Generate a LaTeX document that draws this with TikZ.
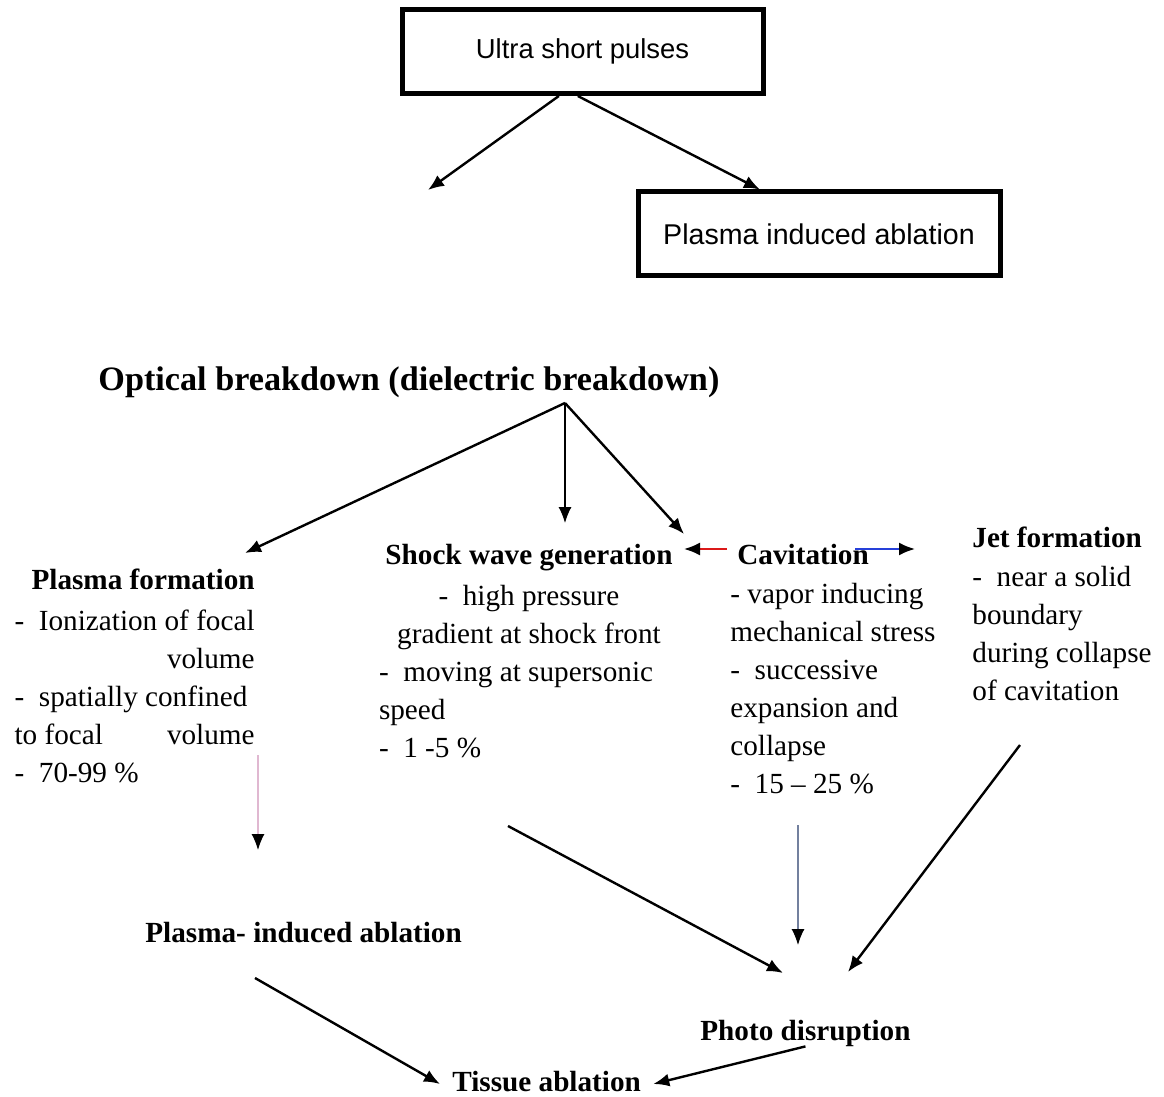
\documentclass[tikz,border=0pt]{standalone}
\usepackage{fontspec}
\setmainfont{Liberation Serif}
\newfontfamily\boxfont{Liberation Sans}
\usetikzlibrary{positioning,arrows.meta}
\definecolor{redclr}{rgb}{0.86, 0.1, 0.1}
\definecolor{blueclr}{rgb}{0.15, 0.25, 0.85}
\definecolor{pinkclr}{rgb}{0.88, 0.72, 0.82}
\definecolor{greyclr}{rgb}{0.45, 0.5, 0.62}
\tikzset{ %
  ,>={Latex[length=8pt,width=6.5pt]}
  ,every node/.style={inner sep=0, font=\fontsize{14.6}{19}\selectfont}
  ,box/.style={draw, line width=2.5pt, minimum width=181pt, minimum height=42pt}
  ,head/.style={font=\bfseries\fontsize{14.6}{19}\selectfont, text height=10pt, text depth=3pt}
  ,body/.style={align=left, execute at begin node={\rule{0pt}{10pt}}}
  ,link/.style={draw, ->, line width=1.2pt}
  ,thin link/.style={-{Latex[length=8pt,width=6.5pt,color=black]}, line width=0.6pt}
}

\begin{document}
\begin{tikzpicture}[x=0.5pt, y=-0.5pt]
  \useasboundingbox (0,0) rectangle (1164,1097);
      \draw
      node[box, minimum width=180.5pt, font=\boxfont\fontsize{13.7}{16}\selectfont] (ultra) at (582.5,51.5) {Ultra short pulses}
      node[box, font=\boxfont\fontsize{14.3}{17}\selectfont] (pbox) at (819,234) {Plasma induced ablation}
      node[head, font=\bfseries\fontsize{17.1}{20}\selectfont, anchor=base west] (optical) at (98,391) {Optical breakdown (dielectric breakdown)}
      node[head, anchor=base east] (pform) at (255,589) {Plasma formation}
      node[body, below=7pt of pform.south east, anchor=north east] (pformtxt)
        {-\ \ Ionization of focal\\ \makebox[120pt][r]{volume}\\ -\ \ spatially confined\\
         \makebox[120pt][s]{to focal\hfill volume}\\ -\ \ 70-99 \%}
      node[head, anchor=base] (shock) at (529,564) {Shock wave generation}
      node[body, below=7pt of shock] (shocktxt)
        {\makebox[150pt]{-\ \ high pressure}\\ \makebox[150pt]{gradient at shock front}\\
         -\ \ moving at supersonic\\ speed\\ -\ \ 1 -5 \%}
      node[head, anchor=base west] (cav) at (737,564) {Cavitation}
      node[body, below=6pt of cav.south west, anchor=north west, xshift=-3.5pt] (cavtxt)
        {-\ vapor inducing\\ mechanical stress\\ -\ \ successive\\ expansion and\\ collapse\\ -\ \ 15 -- 25 \%}
      node[head, anchor=base west] (jet) at (972,547) {Jet formation}
      node[body, below=6pt of jet.south west, anchor=north west] (jettxt)
        {-\ \ near a solid\\ boundary\\ during collapse\\ of cavitation}
      node[head, anchor=base west] (pia) at (145,942) {Plasma- induced ablation}
      node[head, anchor=base west] (photo) at (700,1040) {Photo disruption}
      node[head, inner xsep=6pt, anchor=base west] (tissue) at (440,1091) {Tissue ablation};
      % free ends of the connectors
      \coordinate (lfree) at (428,190);
      \coordinate (hub) at (565,403);
      \coordinate (pfin) at (245,553);
      \coordinate (sdown) at (565,523);
      \coordinate (sfin) at (684,534);
      \coordinate (cavl) at (727,549);
      \coordinate (shockr) at (684,549);
      \coordinate (cavr) at (855,549);
      \coordinate (jetl) at (915,549);
      \coordinate (pfout) at (258,755);
      \coordinate (piain) at (258,850);
      \coordinate (piaout) at (255,978);
      \coordinate (shockout) at (508,826);
      \coordinate (cavout) at (798,825);
      \coordinate (jetout) at (1020,745);
      \coordinate (phin1) at (783,973);
      \coordinate (phin2) at (798,945);
      \coordinate (phin3) at (848,972);
      \path (ultra.242) edge[link] (lfree) (ultra.264) edge[link] (pbox.143) (hub) edge[link] (pfin) (hub) edge[link] (sfin)
        (piaout) edge[link] (tissue.west) (shockout) edge[link] (phin1) (jetout) edge[link] (phin3) (photo.south) edge[link] (tissue.east);
      \draw [thin link, black] (hub) -- (sdown);
      \draw [thin link, line width=1pt, redclr] (cavl) -- (shockr);
      \draw [thin link, line width=1pt, blueclr] (cavr) -- (jetl);
      \draw [thin link, pinkclr] (pfout) -- (piain);
      \draw [thin link, greyclr] (cavout) -- (phin2);
    \end{tikzpicture}
\end{document}
